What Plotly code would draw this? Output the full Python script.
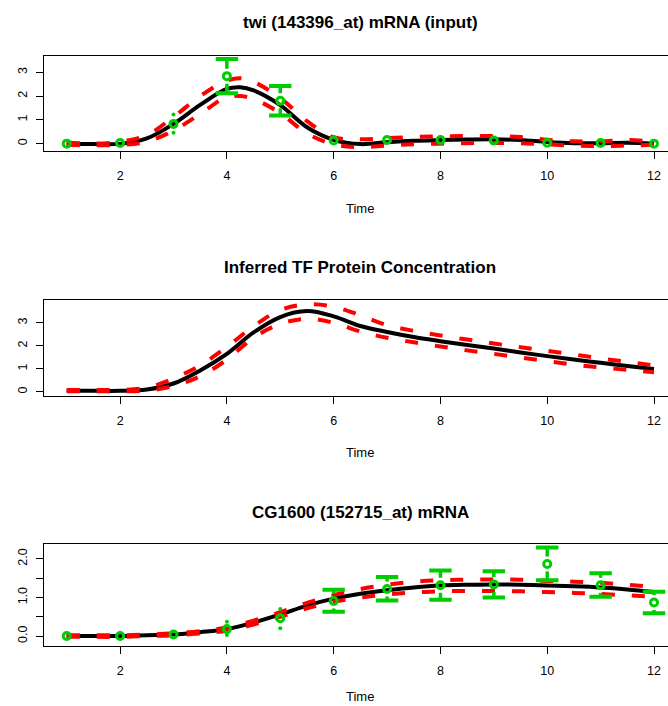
import plotly.graph_objects as go

W, H = 668, 706

# ---------------- data ----------------
t_obs = [1, 2, 3, 4, 5, 6, 7, 8, 9, 10, 11, 12]

# panel 1: twi (143396_at) mRNA (input)
twi_obs = [0.00, 0.03, 0.83, 2.84, 1.80, 0.13, 0.15, 0.15, 0.13, 0.04, 0.03, 0.00]
twi_lo = [0.00, 0.03, 0.46, 2.12, 1.18, 0.13, 0.15, 0.15, 0.13, 0.04, 0.03, 0.00]
twi_hi = [0.00, 0.03, 1.23, 3.56, 2.42, 0.13, 0.15, 0.15, 0.13, 0.04, 0.03, 0.00]

t_grid1 = [1, 1.5, 2, 2.5, 3, 3.5, 4, 4.25, 4.5, 5, 5.5, 6, 6.5, 7, 7.5, 8,
           8.5, 9, 9.5, 10, 10.5, 11, 11.5, 12]
twi_mu = [0.00, -0.02, -0.01, 0.22, 0.83, 1.63, 2.30, 2.37, 2.24, 1.62, 0.69,
          0.16, -0.02, 0.06, 0.12, 0.15, 0.17, 0.18, 0.15, 0.07, 0.02, 0.02,
          0.04, 0.00]
twi_up = [0.05, 0.00, 0.08, 0.36, 1.12, 2.00, 2.65, 2.75, 2.60, 1.92, 0.95,
          0.27, 0.18, 0.23, 0.28, 0.31, 0.32, 0.32, 0.28, 0.16, 0.10, 0.10,
          0.15, 0.08]
twi_dn = [-0.05, -0.07, -0.05, 0.08, 0.55, 1.25, 1.97, 2.00, 1.88, 1.28, 0.43,
          -0.03, -0.15, -0.08, -0.03, 0.00, 0.02, 0.03, 0.02, -0.03, -0.08,
          -0.10, -0.08, -0.05]

# panel 2: inferred TF protein concentration
t_grid2 = [1, 1.5, 2, 2.5, 3, 3.5, 4, 4.5, 5, 5.5, 6, 6.5, 7, 7.5, 8, 8.5, 9,
           9.5, 10, 10.5, 11, 11.5, 12]
tf_mu = [0.04, 0.04, 0.04, 0.10, 0.36, 0.93, 1.65, 2.58, 3.25, 3.51, 3.28,
         2.86, 2.60, 2.38, 2.20, 2.03, 1.88, 1.71, 1.55, 1.40, 1.26, 1.12, 0.99]
tf_up = [0.08, 0.08, 0.08, 0.18, 0.58, 1.15, 1.95, 2.85, 3.55, 3.80, 3.70,
         3.32, 2.90, 2.65, 2.45, 2.27, 2.10, 1.94, 1.78, 1.62, 1.45, 1.30, 1.15]
tf_dn = [0.02, 0.02, 0.02, 0.05, 0.25, 0.68, 1.40, 2.35, 2.95, 3.17, 3.00,
         2.62, 2.35, 2.15, 1.97, 1.80, 1.65, 1.49, 1.33, 1.18, 1.06, 0.95, 0.85]

# panel 3: CG1600 (152715_at) mRNA
cg_obs = [0.00, 0.00, 0.04, 0.18, 0.46, 0.91, 1.22, 1.32, 1.34, 1.87, 1.32, 0.87]
cg_lo = [0.00, 0.00, 0.04, 0.03, 0.20, 0.63, 0.92, 0.94, 1.00, 1.45, 1.02, 0.59]
cg_hi = [0.00, 0.00, 0.04, 0.37, 0.70, 1.20, 1.53, 1.70, 1.68, 2.30, 1.63, 1.15]

t_grid3 = [1, 1.5, 2, 2.5, 3, 3.5, 4, 4.5, 5, 5.5, 6, 6.5, 7, 7.5, 8, 8.5, 9,
           9.5, 10, 10.5, 11, 11.5, 12]
cg_mu = [0.00, 0.00, 0.00, 0.02, 0.04, 0.10, 0.18, 0.35, 0.56, 0.79, 0.97,
         1.10, 1.19, 1.26, 1.31, 1.33, 1.34, 1.33, 1.31, 1.29, 1.26, 1.21, 1.14]
cg_up = [0.02, 0.02, 0.02, 0.04, 0.07, 0.13, 0.22, 0.40, 0.62, 0.86, 1.06,
         1.22, 1.33, 1.41, 1.45, 1.46, 1.47, 1.46, 1.43, 1.41, 1.38, 1.33, 1.27]
cg_dn = [-0.02, -0.02, -0.02, 0.00, 0.02, 0.07, 0.14, 0.30, 0.50, 0.72, 0.89,
         1.00, 1.08, 1.13, 1.16, 1.17, 1.17, 1.16, 1.14, 1.12, 1.09, 1.06, 1.02]

titles = ["twi (143396_at) mRNA (input)",
          "Inferred TF Protein Concentration",
          "CG1600 (152715_at) mRNA"]
x_label = "Time"
x_ticks = [2, 4, 6, 8, 10, 12]
y_ticks = [[0, 1, 2, 3], [0, 1, 2, 3], [0, 0.5, 1, 1.5, 2]]
y_ticktext = [["0", "1", "2", "3"], ["0", "1", "2", "3"],
              ["0.0", "", "1.0", "", "2.0"]]

# ---------------- layout constants ----------------
GREEN = "#00CD00"
RED = "#FF0000"
FONT = "Liberation Sans"
X_RANGE = [0.565, 12.262]
X_DOM = [43.5 / W, 1.0]
GAP_PX = 7.5
CAP_MIN_PX = 10.5

panels = [
    dict(top=55.7, bottom=151.0, yr=[-0.31, 3.70], title_y=23.0, lab_y=208.0,
         tg=t_grid1, mu=twi_mu, up=twi_up, dn=twi_dn,
         obs=twi_obs, lo=twi_lo, hi=twi_hi),
    dict(top=300.0, bottom=395.7, yr=[-0.17, 3.99], title_y=267.3, lab_y=452.3,
         tg=t_grid2, mu=tf_mu, up=tf_up, dn=tf_dn,
         obs=None, lo=None, hi=None),
    dict(top=544.3, bottom=645.7, yr=[-0.25, 2.38], title_y=512.7, lab_y=696.6,
         tg=t_grid3, mu=cg_mu, up=cg_up, dn=cg_dn,
         obs=cg_obs, lo=cg_lo, hi=cg_hi),
]

fig = go.Figure()
annotations = []

for i, p in enumerate(panels):
    k = "" if i == 0 else str(i + 1)
    xa, ya = "x" + k, "y" + k
    ppu = (p["bottom"] - p["top"]) / (p["yr"][1] - p["yr"][0])

    fig.add_trace(go.Scatter(x=p["tg"], y=p["mu"], mode="lines", xaxis=xa, yaxis=ya,
                             line=dict(color="black", width=4, shape="spline", smoothing=1.0)))
    for band in (p["up"], p["dn"]):
        fig.add_trace(go.Scatter(x=p["tg"], y=band, mode="lines", xaxis=xa, yaxis=ya,
                                 line=dict(color=RED, width=4, dash="13px,17px",
                                           shape="spline", smoothing=1.0)))

    if p["obs"] is not None:
        gap = GAP_PX / ppu
        sx, sy, cx, cy, dx, dy = [], [], [], [], [], []
        for t, y, lo, hi in zip(t_obs, p["obs"], p["lo"], p["hi"]):
            for end in (hi, lo):
                L = abs(end - y) * ppu
                if L > CAP_MIN_PX:
                    s = 1 if end > y else -1
                    sx += [t, t, None]
                    sy += [y + s * gap, end, None]
                    cx.append(t)
                    cy.append(end)
                elif L > 3:
                    dx.append(t)
                    dy.append(end)
        fig.add_trace(go.Scatter(x=sx, y=sy, mode="lines", xaxis=xa, yaxis=ya,
                                 line=dict(color=GREEN, width=3.5)))
        fig.add_trace(go.Scatter(x=cx, y=cy, mode="markers", xaxis=xa, yaxis=ya,
                                 marker=dict(symbol="line-ew", size=16, color=GREEN,
                                             line=dict(color=GREEN, width=4))))
        fig.add_trace(go.Scatter(x=dx, y=dy, mode="markers", xaxis=xa, yaxis=ya,
                                 marker=dict(symbol="circle", size=4, color=GREEN,
                                             line=dict(width=0))))
        fig.add_trace(go.Scatter(x=t_obs, y=p["obs"], mode="markers", xaxis=xa, yaxis=ya,
                                 marker=dict(symbol="circle-open", size=7, color=GREEN,
                                             line=dict(color=GREEN, width=3))))

    dom_y = [1 - p["bottom"] / H, 1 - p["top"] / H]
    fig.update_layout(**{
        "xaxis" + k: dict(domain=X_DOM, range=X_RANGE, anchor=ya,
                          tickvals=x_ticks, ticks="outside", ticklen=7, tickwidth=1,
                          tickcolor="black", showline=True, linecolor="black",
                          linewidth=1, mirror=True, showgrid=False, zeroline=False,
                          tickfont=dict(family=FONT, size=12.5, color="black"),
                          ticklabelstandoff=6),
        "yaxis" + k: dict(domain=dom_y, range=p["yr"], anchor=xa,
                          tickvals=y_ticks[i], ticktext=y_ticktext[i], tickangle=-90,
                          ticks="outside", ticklen=7, tickwidth=1, tickcolor="black",
                          showline=True, linecolor="black", linewidth=1, mirror=False,
                          showgrid=False, zeroline=False,
                          tickfont=dict(family=FONT, size=12.5, color="black"),
                          ticklabelstandoff=4),
    })
    annotations.append(dict(text="<b>" + titles[i] + "</b>", x=360 / W, y=1 - p["title_y"] / H,
                            xref="paper", yref="paper", showarrow=False,
                            xanchor="center", yanchor="middle",
                            font=dict(family=FONT, size=17, color="black")))
    annotations.append(dict(text=x_label, x=360 / W, y=1 - p["lab_y"] / H,
                            xref="paper", yref="paper", showarrow=False,
                            xanchor="center", yanchor="middle",
                            font=dict(family=FONT, size=13, color="black")))

fig.update_layout(width=W, height=H, margin=dict(l=0, r=0, t=0, b=0),
                  paper_bgcolor="white", plot_bgcolor="white", showlegend=False,
                  annotations=annotations)

fig.write_html("out.html", config={"displayModeBar": False},
               post_script="document.body.style.margin='0';document.body.style.padding='0';")
